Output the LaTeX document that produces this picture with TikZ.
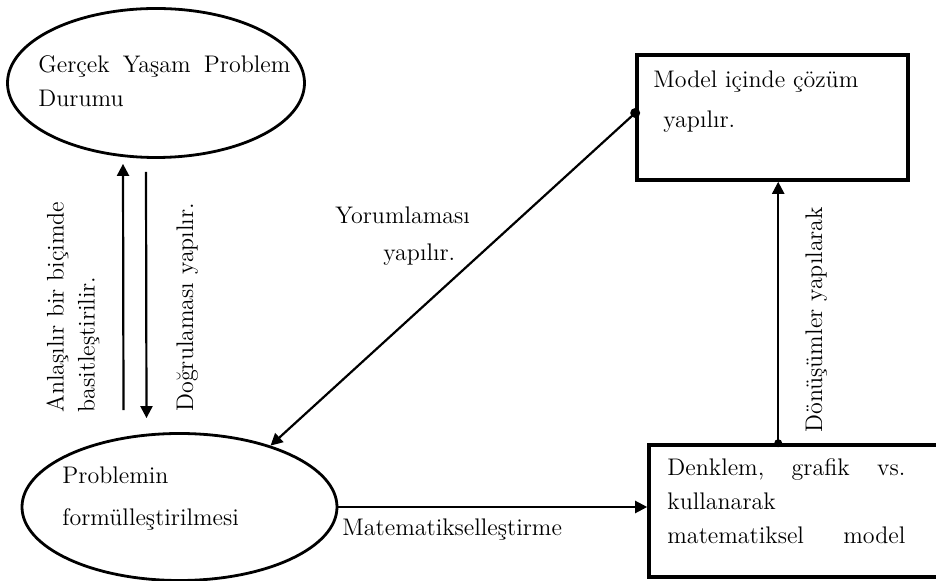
\documentclass[tikz,border=0pt]{standalone}
\usepackage{fontspec}
\usepackage{tikz}
\usetikzlibrary{arrows.meta,shapes.geometric,calc}

\begin{document}
\begin{tikzpicture}[x=0.5pt, y=-0.5pt,
    font=\fontsize{12}{17}\selectfont,
    oval/.style={ellipse, draw, line width=1.4pt, inner sep=0pt},
    box/.style={rectangle, draw, line width=1.8pt, inner sep=0pt},
    txt/.style={anchor=north west, inner sep=0pt, align=left},
    vtxt/.style={txt, rotate=90},
    arr/.style={-{Triangle[length=6pt,width=6pt]}, line width=1.1pt}
  ]
  \useasboundingbox (0,0) rectangle (936,581);
  \clip (0,0) rectangle (936,581);

  % shapes
  \node[oval, minimum width=148.5pt, minimum height=74.5pt] (real) at (156,83) {};
  \node[oval, minimum width=157.5pt, minimum height=73.5pt] (prob) at (179.5,507) {};
  \node[box, minimum width=135.5pt, minimum height=62.5pt] (mdl) at (772.5,117.5) {};
  \node[box, minimum width=150.5pt, minimum height=66pt] (mm) at (799.5,511) {};

  % texts
  \node[txt, text width=126pt] (realtxt) at (38,55) {Gerçek\hfill Yaşam\hfill Problem\\Durumu};
  \node[txt] (probtxt) at (62,466) {Problemin\\[4pt]formülleştirilmesi};
  \node[txt] (mdltxt) at (653,70) {Model içinde çözüm\\[3pt]\hspace*{5pt}yapılır.};
  \node[txt, text width=119pt] (mmtxt) at (667,458) {Denklem,\hfill grafik\hfill vs.\\kullanarak\\matematiksel\hfill model};

  \node[txt] (yorum) at (335,206) {Yorumlaması\\[1.5pt]\hspace*{24pt}yapılır.};
  \node[txt] (matlbl) at (342,518) {Matematikselleştirme};
  \node[vtxt] (anlas) at (46,413) {Anlaşılır bir biçimde\\[-1.5pt]basitleştirilir.};
  \node[vtxt] (dogru) at (176,412) {Doğrulaması yapılır.};
  \node[vtxt] (donus) at (805,433) {Dönüşümler yapılarak};

  % connectors
  \draw[arr] ([xshift=-28pt,yshift=11pt]prob.north) -- ([xshift=-16.5pt,yshift=-2.5pt]real.south);
  \draw[arr] ([xshift=-5pt,yshift=-6.5pt]real.south) -- ([xshift=-16.5pt,yshift=7pt]prob.north);
  \draw[arr] ([yshift=2.25pt]mdl.west) coordinate (y0) -- (prob.34);
  \fill (y0) circle (2.5pt);
  \draw[arr] (prob.east) -- (prob.east -| mm.west);
  \draw[arr] ([xshift=65.5pt]mm.north west) coordinate (d0) -- (d0 |- mdl.south);
  \fill (d0) circle (2pt);
\end{tikzpicture}
\end{document}
